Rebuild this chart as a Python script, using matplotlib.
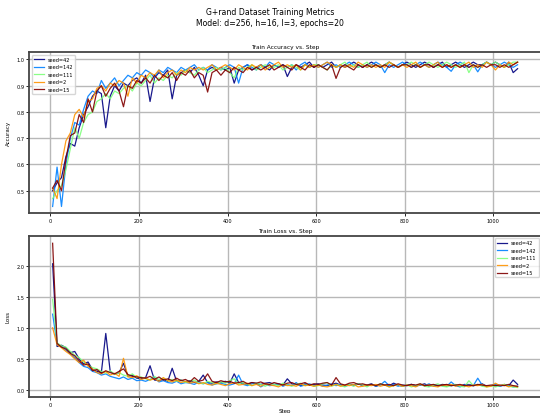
import numpy as np
import matplotlib
matplotlib.use("Agg")
import matplotlib.pyplot as plt

steps = np.arange(5, 1065, 10)
seeds = [42, 142, 111, 2, 15]

acc_42 = [0.50, 0.53, 0.55, 0.63, 0.68, 0.67, 0.74, 0.79, 0.82, 0.86,
          0.88, 0.87, 0.74, 0.86, 0.90, 0.88, 0.91, 0.90, 0.92, 0.93,
          0.91, 0.94, 0.84, 0.93, 0.95, 0.94, 0.96, 0.85, 0.94, 0.95,
          0.96, 0.95, 0.97, 0.94, 0.90, 0.96, 0.97, 0.96, 0.97, 0.96,
          0.97, 0.91, 0.96, 0.97, 0.98, 0.96, 0.97, 0.98, 0.97, 0.96,
          0.98, 0.97, 0.98, 0.935, 0.97, 0.98, 0.97, 0.98, 0.99, 0.97,
          0.98, 0.97, 0.98, 0.99, 0.97, 0.98, 0.97, 0.98, 0.99, 0.98,
          0.97, 0.98, 0.99, 0.98, 0.97, 0.98, 0.99, 0.98, 0.97, 0.98,
          0.99, 0.98, 0.97, 0.98, 0.99, 0.98, 0.97, 0.98, 0.99, 0.97,
          0.98, 0.99, 0.98, 0.97, 0.98, 0.99, 0.98, 0.98, 0.99, 0.98,
          0.99, 0.98, 0.97, 0.99, 0.95, 0.965]
acc_142 = [0.44, 0.59, 0.44, 0.60, 0.70, 0.76, 0.75, 0.81, 0.86, 0.88,
           0.87, 0.92, 0.89, 0.91, 0.93, 0.90, 0.92, 0.94, 0.93, 0.95,
           0.94, 0.96, 0.95, 0.93, 0.96, 0.95, 0.97, 0.96, 0.95, 0.97,
           0.96, 0.97, 0.98, 0.96, 0.97, 0.96, 0.98, 0.97, 0.96, 0.97,
           0.98, 0.97, 0.91, 0.97, 0.98, 0.97, 0.96, 0.98, 0.97, 0.99,
           0.98, 0.97, 0.98, 0.97, 0.98, 0.96, 0.98, 0.99, 0.97, 0.98,
           0.97, 0.98, 0.99, 0.97, 0.98, 0.97, 0.98, 0.99, 0.98, 0.97,
           0.98, 0.97, 0.98, 0.99, 0.98, 0.95, 0.98, 0.97, 0.98, 0.99,
           0.98, 0.97, 0.98, 0.99, 0.98, 0.97, 0.98, 0.99, 0.98, 0.97,
           0.955, 0.98, 0.99, 0.98, 0.97, 0.98, 0.953, 0.98, 0.99, 0.98,
           0.97, 0.98, 0.99, 0.98, 0.97, 0.98]
acc_111 = [0.47, 0.50, 0.52, 0.58, 0.66, 0.74, 0.70, 0.76, 0.79, 0.80,
           0.84, 0.85, 0.87, 0.85, 0.88, 0.87, 0.89, 0.90, 0.88, 0.91,
           0.90, 0.92, 0.94, 0.91, 0.93, 0.92, 0.94, 0.93, 0.95, 0.94,
           0.96, 0.95, 0.94, 0.96, 0.97, 0.95, 0.96, 0.97, 0.96, 0.97,
           0.95, 0.93, 0.97, 0.96, 0.97, 0.98, 0.96, 0.97, 0.98, 0.97,
           0.97, 0.98, 0.96, 0.97, 0.98, 0.97, 0.96, 0.98, 0.97, 0.98,
           0.98, 0.97, 0.96, 0.98, 0.97, 0.98, 0.99, 0.97, 0.98, 0.97,
           0.98, 0.99, 0.97, 0.98, 0.97, 0.98, 0.99, 0.98, 0.97, 0.98,
           0.98, 0.99, 0.98, 0.97, 0.98, 0.99, 0.98, 0.97, 0.98, 0.99,
           0.98, 0.97, 0.98, 0.99, 0.95, 0.98, 0.97, 0.98, 0.99, 0.98,
           0.99, 0.98, 0.97, 0.98, 0.99, 0.99]
acc_2 = [0.51, 0.47, 0.60, 0.69, 0.72, 0.79, 0.81, 0.78, 0.84, 0.85,
         0.89, 0.90, 0.88, 0.91, 0.90, 0.92, 0.91, 0.86, 0.93, 0.91,
         0.94, 0.93, 0.95, 0.94, 0.96, 0.93, 0.95, 0.96, 0.94, 0.96,
         0.95, 0.97, 0.96, 0.97, 0.96, 0.97, 0.98, 0.96, 0.97, 0.98,
         0.97, 0.96, 0.98, 0.97, 0.96, 0.98, 0.97, 0.98, 0.96, 0.97,
         0.98, 0.99, 0.97, 0.98, 0.97, 0.98, 0.96, 0.98, 0.97, 0.98,
         0.97, 0.98, 0.99, 0.98, 0.97, 0.98, 0.97, 0.98, 0.97, 0.99,
         0.98, 0.97, 0.98, 0.97, 0.98, 0.97, 0.99, 0.98, 0.97, 0.98,
         0.97, 0.98, 0.99, 0.97, 0.98, 0.97, 0.98, 0.99, 0.97, 0.98,
         0.97, 0.98, 0.97, 0.98, 0.99, 0.97, 0.98, 0.97, 0.99, 0.98,
         0.96, 0.98, 0.97, 0.99, 0.98, 0.99]
acc_15 = [0.51, 0.54, 0.50, 0.62, 0.71, 0.72, 0.79, 0.76, 0.85, 0.80,
          0.88, 0.90, 0.86, 0.89, 0.91, 0.88, 0.82, 0.90, 0.89, 0.92,
          0.91, 0.93, 0.91, 0.94, 0.92, 0.94, 0.93, 0.95, 0.92, 0.95,
          0.94, 0.96, 0.93, 0.95, 0.94, 0.876, 0.95, 0.96, 0.94, 0.96,
          0.95, 0.97, 0.96, 0.95, 0.97, 0.96, 0.97, 0.96, 0.97, 0.98,
          0.96, 0.97, 0.98, 0.97, 0.96, 0.98, 0.97, 0.96, 0.98, 0.97,
          0.98, 0.97, 0.96, 0.98, 0.928, 0.97, 0.98, 0.97, 0.96, 0.98,
          0.97, 0.98, 0.97, 0.98, 0.97, 0.98, 0.97, 0.98, 0.97, 0.98,
          0.98, 0.97, 0.98, 0.97, 0.98, 0.98, 0.97, 0.98, 0.97, 0.98,
          0.97, 0.98, 0.97, 0.98, 0.97, 0.98, 0.97, 0.98, 0.97, 0.98,
          0.98, 0.97, 0.98, 0.97, 0.98, 0.99]

loss_42 = [2.03, 0.70, 0.72, 0.68, 0.60, 0.62, 0.50, 0.42, 0.45, 0.33,
           0.30, 0.28, 0.91, 0.30, 0.25, 0.28, 0.43, 0.22, 0.24, 0.19,
           0.18, 0.20, 0.39, 0.16, 0.15, 0.17, 0.14, 0.35, 0.14, 0.16,
           0.13, 0.15, 0.12, 0.14, 0.24, 0.12, 0.11, 0.13, 0.12, 0.14,
           0.11, 0.26, 0.12, 0.10, 0.09, 0.12, 0.10, 0.09, 0.11, 0.12,
           0.09, 0.10, 0.08, 0.18, 0.10, 0.09, 0.07, 0.10, 0.08, 0.09,
           0.10, 0.08, 0.07, 0.09, 0.11, 0.08, 0.07, 0.09, 0.08, 0.10,
           0.07, 0.08, 0.10, 0.06, 0.09, 0.08, 0.07, 0.11, 0.08, 0.06,
           0.08, 0.09, 0.07, 0.08, 0.10, 0.06, 0.08, 0.07, 0.09, 0.08,
           0.07, 0.08, 0.06, 0.09, 0.08, 0.07, 0.08, 0.10, 0.06, 0.07,
           0.08, 0.06, 0.09, 0.07, 0.16, 0.09]
loss_142 = [1.22, 0.74, 0.70, 0.64, 0.58, 0.52, 0.44, 0.38, 0.36, 0.30,
            0.28, 0.24, 0.26, 0.22, 0.20, 0.18, 0.21, 0.17, 0.19, 0.15,
            0.16, 0.14, 0.17, 0.20, 0.13, 0.15, 0.12, 0.11, 0.14, 0.10,
            0.12, 0.11, 0.09, 0.13, 0.10, 0.12, 0.08, 0.10, 0.11, 0.09,
            0.08, 0.10, 0.24, 0.09, 0.07, 0.10, 0.11, 0.05, 0.09, 0.07,
            0.08, 0.10, 0.06, 0.09, 0.07, 0.12, 0.06, 0.08, 0.10, 0.07,
            0.09, 0.06, 0.08, 0.10, 0.07, 0.09, 0.06, 0.08, 0.07, 0.10,
            0.08, 0.07, 0.09, 0.06, 0.08, 0.14, 0.07, 0.09, 0.06, 0.08,
            0.07, 0.09, 0.06, 0.08, 0.07, 0.10, 0.06, 0.08, 0.07, 0.06,
            0.13, 0.07, 0.05, 0.08, 0.09, 0.07, 0.19, 0.08, 0.06, 0.07,
            0.09, 0.06, 0.08, 0.07, 0.05, 0.06]
loss_111 = [1.46, 0.76, 0.71, 0.69, 0.62, 0.56, 0.52, 0.45, 0.40, 0.36,
            0.34, 0.30, 0.27, 0.31, 0.25, 0.28, 0.24, 0.22, 0.26, 0.20,
            0.21, 0.18, 0.16, 0.22, 0.17, 0.19, 0.15, 0.17, 0.14, 0.16,
            0.12, 0.14, 0.16, 0.11, 0.10, 0.14, 0.12, 0.10, 0.13, 0.11,
            0.15, 0.18, 0.10, 0.12, 0.09, 0.07, 0.11, 0.09, 0.06, 0.10,
            0.09, 0.07, 0.11, 0.08, 0.06, 0.09, 0.11, 0.07, 0.09, 0.06,
            0.07, 0.10, 0.12, 0.06, 0.09, 0.07, 0.05, 0.09, 0.06, 0.10,
            0.08, 0.05, 0.09, 0.07, 0.10, 0.08, 0.05, 0.07, 0.09, 0.06,
            0.08, 0.05, 0.07, 0.10, 0.06, 0.05, 0.08, 0.10, 0.06, 0.05,
            0.07, 0.09, 0.06, 0.05, 0.15, 0.07, 0.09, 0.06, 0.05, 0.07,
            0.05, 0.07, 0.09, 0.06, 0.05, 0.04]
loss_2 = [1.00, 0.73, 0.68, 0.62, 0.57, 0.50, 0.44, 0.48, 0.38, 0.34,
          0.28, 0.26, 0.30, 0.24, 0.27, 0.22, 0.51, 0.21, 0.20, 0.23,
          0.17, 0.19, 0.16, 0.18, 0.14, 0.20, 0.15, 0.13, 0.16, 0.12,
          0.14, 0.11, 0.13, 0.10, 0.12, 0.09, 0.08, 0.11, 0.09, 0.07,
          0.10, 0.12, 0.08, 0.09, 0.11, 0.07, 0.09, 0.06, 0.10, 0.08,
          0.07, 0.05, 0.09, 0.07, 0.08, 0.06, 0.10, 0.07, 0.08, 0.06,
          0.08, 0.06, 0.05, 0.07, 0.09, 0.06, 0.08, 0.07, 0.09, 0.05,
          0.06, 0.08, 0.07, 0.09, 0.06, 0.08, 0.05, 0.07, 0.09, 0.06,
          0.08, 0.07, 0.05, 0.09, 0.07, 0.08, 0.06, 0.05, 0.08, 0.07,
          0.09, 0.06, 0.08, 0.07, 0.05, 0.08, 0.07, 0.09, 0.05, 0.06,
          0.11, 0.07, 0.08, 0.05, 0.07, 0.05]
loss_15 = [2.36, 0.75, 0.69, 0.66, 0.59, 0.55, 0.47, 0.40, 0.42, 0.31,
           0.33, 0.27, 0.31, 0.28, 0.26, 0.30, 0.34, 0.25, 0.22, 0.21,
           0.20, 0.19, 0.22, 0.17, 0.21, 0.16, 0.18, 0.15, 0.19, 0.15,
           0.17, 0.13, 0.20, 0.14, 0.16, 0.26, 0.14, 0.12, 0.15, 0.13,
           0.14, 0.11, 0.12, 0.14, 0.10, 0.12, 0.11, 0.13, 0.10, 0.09,
           0.12, 0.10, 0.08, 0.11, 0.12, 0.09, 0.10, 0.12, 0.08, 0.10,
           0.09, 0.11, 0.12, 0.08, 0.20, 0.10, 0.08, 0.11, 0.12, 0.09,
           0.10, 0.08, 0.09, 0.07, 0.10, 0.08, 0.09, 0.07, 0.10, 0.08,
           0.07, 0.09, 0.08, 0.10, 0.07, 0.08, 0.09, 0.07, 0.08, 0.09,
           0.07, 0.08, 0.09, 0.07, 0.08, 0.07, 0.09, 0.08, 0.07, 0.08,
           0.07, 0.08, 0.07, 0.09, 0.07, 0.06]

acc = [acc_42, acc_142, acc_111, acc_2, acc_15]
loss = [loss_42, loss_142, loss_111, loss_2, loss_15]
colors = plt.cm.jet(np.linspace(0, 1, len(seeds)))

fig = plt.figure(figsize=(5.4, 4.14), dpi=100)
ax1 = fig.add_axes([0.054, 0.483, 0.948, 0.388])
ax2 = fig.add_axes([0.054, 0.039, 0.948, 0.389])

for i in range(len(seeds)):
    ax1.plot(steps, acc[i], color=colors[i], lw=0.9, alpha=0.9, label="seed=" + str(seeds[i]))
    ax2.plot(steps, loss[i], color=colors[i], lw=0.9, alpha=0.9, label="seed=" + str(seeds[i]))

ax1.set_title("Train Accuracy vs. Step", fontsize=4.2, pad=3)
ax1.set_ylabel("Accuracy", fontsize=4)
ax1.set_xlim(-48, 1108)
ax1.set_ylim(0.415, 1.027)
ax1.set_yticks([0.5, 0.6, 0.7, 0.8, 0.9, 1.0])
ax1.legend(loc="upper left", fontsize=3.6)

ax2.set_title("Train Loss vs. Step", fontsize=4.2, pad=3)
ax2.set_xlabel("Step", fontsize=4, labelpad=1)
ax2.set_ylabel("Loss", fontsize=4)
ax2.set_xlim(-48, 1108)
ax2.set_ylim(-0.11, 2.48)
ax2.legend(loc="upper right", fontsize=3.6)

for ax in (ax1, ax2):
    ax.grid(True, color="#b8b8b8", lw=1.0)
    ax.set_axisbelow(True)
    ax.tick_params(labelsize=3.6, length=2, width=0.6, pad=1.5)
    for s in ax.spines.values():
        s.set_linewidth(1.3)
        s.set_color("#444444")

fig.suptitle("G+rand Dataset Training Metrics\nModel: d=256, h=16, l=3, epochs=20", fontsize=5.6, y=0.98)
fig.savefig("out.png", dpi=100)
